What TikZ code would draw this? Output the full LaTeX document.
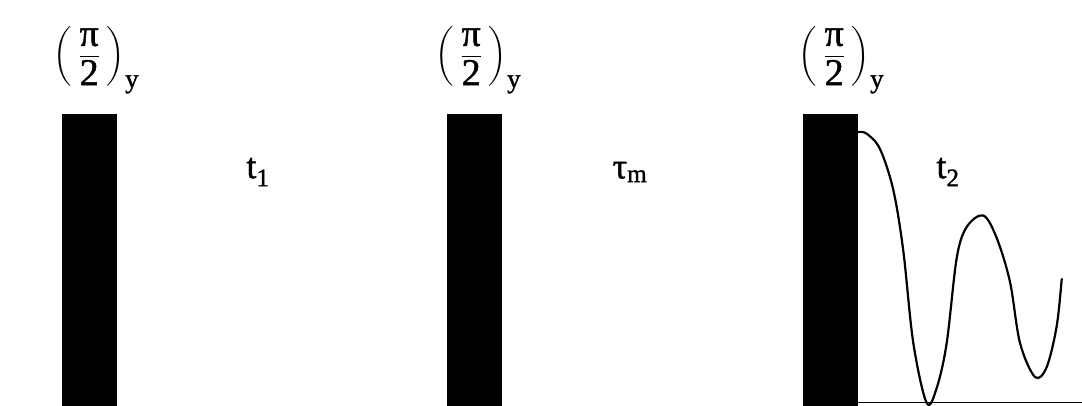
\documentclass[tikz,border=0pt]{standalone}
\usepackage{amsmath}
\usepackage{fontspec}
\setmainfont{Liberation Serif}[FakeBold=1.2]
\newcommand{\pulsetext}{$\left(\;\dfrac{\text{π}}{\text{2}}\;\right)_{\text{y}}$}
\tikzset{
  pulse/.style={fill=black, draw=none, minimum width=55pt, minimum height=292pt, inner sep=0pt, anchor=north west},
  pulselabel/.style={inner sep=0pt, anchor=west, font=\fontsize{38}{44}\selectfont},
  delaylabel/.style={inner sep=0pt, font=\fontsize{36}{42}\selectfont},
  fid/.style={line width=2.2pt, line cap=round, line join=round}
}
\begin{document}
\begin{tikzpicture}[x=1pt,y=-1pt]
\useasboundingbox (0,0) rectangle (1082,405);
\node[pulse] (p1) at (61.5,113.5) {};
\node[pulse] (p2) at (446.5,113.5) {};
\node[pulse] (p3) at (803,113.5) {};
\node[pulselabel] (l1) at (53,60) {\pulsetext};
\node[pulselabel] (l2) at (435,60) {\pulsetext};
\node[pulselabel] (l3) at (798,60) {\pulsetext};
\node[delaylabel] (d1) at (258,172) {t$_{\text{1}}$};
\node[delaylabel] (d2) at (630,172) {$\text{τ}_{\text{m}}$};
\node[delaylabel] (d3) at (948,172) {t$_{\text{2}}$};
\coordinate (bend) at (1082,402.5);
\draw[line width=1.2pt] (p3.east |- bend) -- (bend);
\draw[fid] plot[smooth, tension=0.55] coordinates {
 (858.3,132) (866.7,133.7) (880,149) (893.3,190) (903.3,251) (913.3,343)
 (926.7,403) (936.7,388) (946.7,343) (956.7,258) (966.7,227) (983.3,215.5)
 (996.7,238) (1010,282) (1020,343) (1035,377) (1046.7,367) (1056.7,326) (1061.7,279)};
\end{tikzpicture}
\end{document}
